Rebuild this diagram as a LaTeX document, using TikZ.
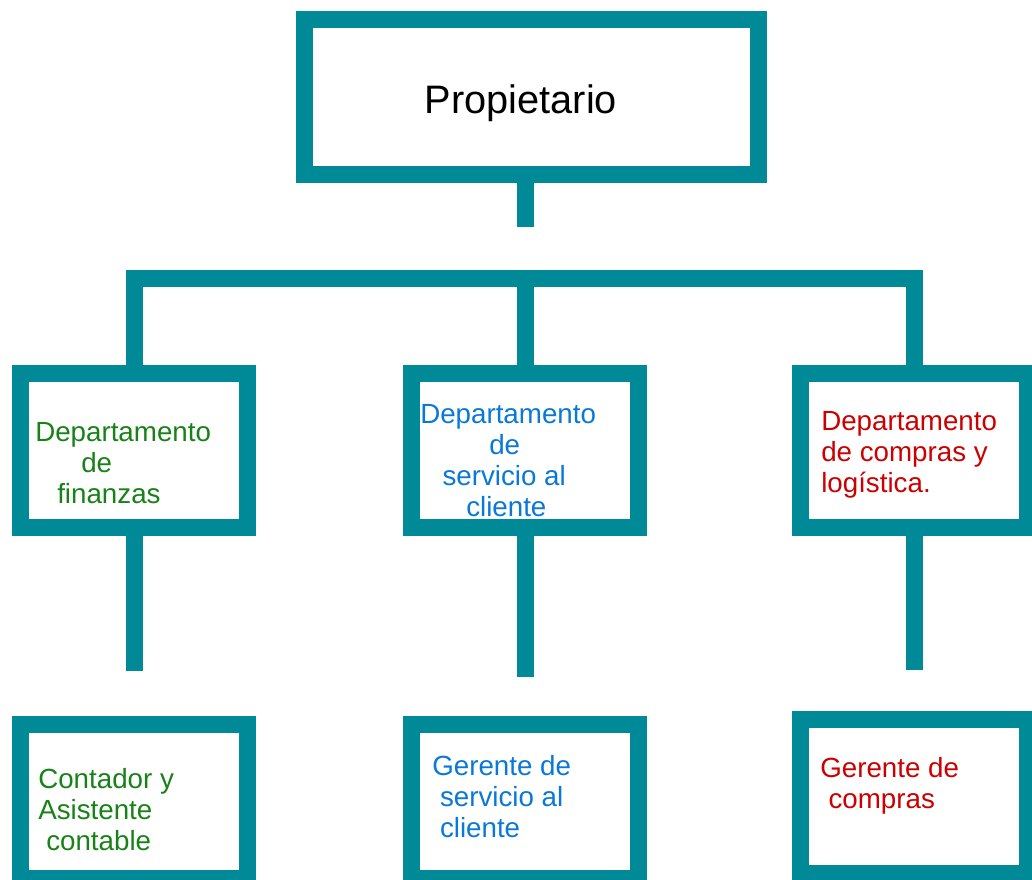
\documentclass[tikz,border=0pt]{standalone}
\usepackage{fontspec}
\setmainfont{Liberation Sans}
\usetikzlibrary{positioning}
\definecolor{orgteal}{RGB}{0,137,150}
\definecolor{orgverde}{RGB}{24,130,24}
\definecolor{orgazul}{RGB}{10,120,215}
\definecolor{orgrojo}{RGB}{204,0,0}
\tikzset{
    caja/.style = {draw = orgteal, line width = 12.75pt, inner sep = 0pt,
        minimum width = 170.25pt, minimum height = 115.5pt},
    linea/.style = {draw = orgteal, line width = 12.75pt},
    texto/.style = {anchor = base west, inner sep = 0pt, align = left,
        font = \fontsize{20.8}{23.25}\selectfont}
}
\begin{document}
\begin{tikzpicture}[x = .75pt, y = -.75pt]
    \useasboundingbox (0,0) rectangle (1032,879);
    % cajas
    \node[caja, minimum width = 340.5pt, minimum height = 116.25pt] (prop) at (531.5,96.5) {};
    \node[caja] (dfin) at (134,450) {};
    \node[caja] (dser) at (525,450) {};
    \node[caja] (dlog) at (914,450) {};
    \node[caja] (gfin) at (134,801) {};
    \node[caja] (gser) at (525,801) {};
    \node[caja] (glog) at (914,796.5) {};
    % conectores
    \coordinate (tallo) at (525,227);
    \coordinate (barra) at (525,278.5);
    \draw[linea] (prop.south -| tallo) -- (tallo);
    \draw[linea] (dfin.north) -- (dfin.north |- barra) -- (dlog.north |- barra) -- (dlog.north);
    \draw[linea] (dser.north) -- (dser.north |- barra);
    \coordinate (cfin) at (134,671);
    \coordinate (cser) at (525,677);
    \coordinate (clog) at (914,670);
    \draw[linea] (dfin.south) -- (cfin);
    \draw[linea] (dser.south) -- (cser);
    \draw[linea] (dlog.south) -- (clog);
    % textos (base = ultima linea)
    \node[anchor = base, inner sep = 0pt, font = \fontsize{29.8}{33}\selectfont] (tprop) at (521,113) {Propietario};
    \node[texto, text = orgverde] (tdfin) at (35,503) {Departamento\\\hspace*{34.5pt}de\\\hspace*{16.5pt}finanzas};
    \node[texto, text = orgazul] (tdser) at (420,516.5) {Departamento\\\hspace*{51.75pt}de\\\hspace*{16.7pt}servicio al\\\hspace*{34.5pt}cliente};
    \node[texto, text = orgrojo] (tdlog) at (821,492) {Departamento\\de compras y\\logística.};
    \node[texto, text = orgverde] (tgfin) at (38,850) {Contador y\\Asistente\\\hspace*{6pt}contable};
    \node[texto, text = orgazul] (tgser) at (432,837) {Gerente de\\\hspace*{5.8pt}servicio al\\\hspace*{5.8pt}cliente};
    \node[texto, text = orgrojo] (tglog) at (820,808) {Gerente de\\\hspace*{6.2pt}compras};
\end{tikzpicture}
\end{document}
